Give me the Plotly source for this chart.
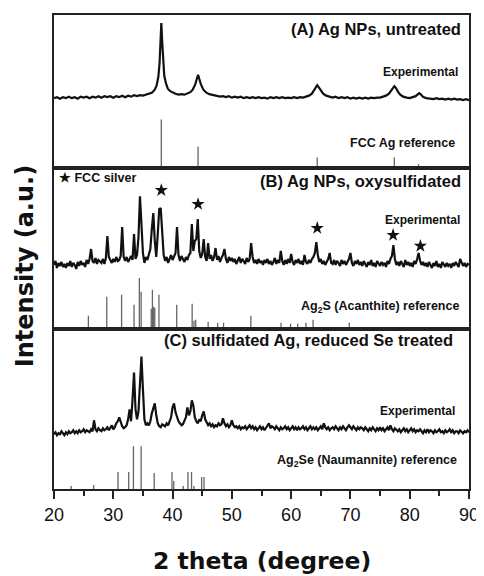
import numpy as np
import plotly.graph_objects as go
from plotly.subplots import make_subplots

# ---------------- DATA ----------------
# (A) Ag NPs, untreated - experimental pattern (2theta, intensity a.u.)
a_two_theta = [20.0, 20.5, 21.0, 21.5, 22.0, 22.5, 23.0, 23.5, 24.0, 24.5, 25.0, 25.5, 26.0, 26.5,
               27.0, 27.5, 28.0, 28.5, 29.0, 29.5, 30.0, 30.5, 31.0, 31.5, 32.0, 32.5, 33.0, 33.5,
               34.0, 34.5, 35.0, 35.5, 36.0, 36.5, 37.0, 37.3, 37.6, 37.8, 37.95, 38.1, 38.25, 38.4,
               38.6, 38.9, 39.2, 39.6, 40.0, 40.5, 41.0, 41.5, 42.0, 42.5, 43.0, 43.4, 43.8, 44.1,
               44.3, 44.5, 44.8, 45.2, 45.7, 46.2, 46.8, 47.5, 48.0, 48.5, 49.0, 49.5, 50.0, 50.5,
               51.0, 51.5, 52.0, 52.5, 53.0, 53.5, 54.0, 54.5, 55.0, 55.5, 56.0, 56.5, 57.0, 57.5,
               58.0, 58.5, 59.0, 59.5, 60.0, 60.5, 61.0, 61.5, 62.0, 62.5, 63.0, 63.5, 63.9, 64.2,
               64.4, 64.7, 65.0, 65.4, 65.9, 66.5, 67.0, 67.5, 68.0, 68.5, 69.0, 69.5, 70.0, 70.5,
               71.0, 71.5, 72.0, 72.5, 73.0, 73.5, 74.0, 74.5, 75.0, 75.5, 76.0, 76.5, 76.9, 77.2,
               77.4, 77.7, 78.0, 78.4, 78.9, 79.5, 80.0, 80.5, 81.0, 81.3, 81.6, 81.9, 82.3, 82.8,
               83.5, 84.0, 84.5, 85.0, 85.5, 86.0, 86.5, 87.0, 87.5, 88.0, 88.5, 89.0, 89.5, 90.0]
a_intensity = [70.5, 71.5, 70.0, 71.5, 70.5, 72.0, 70.5, 71.5, 70.0, 72.0, 71.0, 72.0, 70.5, 72.0,
               71.0, 72.5, 71.0, 72.5, 71.5, 72.5, 71.0, 72.5, 71.5, 73.0, 71.5, 73.0, 72.0, 73.5,
               72.5, 73.5, 73.0, 74.0, 74.5, 76.0, 79.0, 83.0, 92.0, 105.0, 125.0, 146.0, 127.0, 106.0,
               93.0, 85.0, 80.0, 77.5, 76.0, 75.0, 74.0, 74.5, 74.0, 75.0, 76.5, 79.0, 84.0, 90.0,
               94.0, 90.0, 84.0, 79.0, 76.0, 74.5, 73.5, 73.0, 72.0, 72.5, 71.5, 72.5, 71.0, 72.0,
               71.0, 72.0, 70.5, 71.5, 70.5, 71.5, 70.5, 71.5, 70.5, 71.0, 70.0, 71.5, 70.5, 71.5,
               70.5, 71.5, 70.5, 71.0, 70.5, 71.5, 70.5, 71.5, 71.0, 72.0, 73.0, 75.0, 79.0, 82.0,
               83.5, 81.0, 78.0, 75.0, 73.0, 72.0, 71.0, 72.0, 70.5, 71.5, 70.5, 71.5, 70.0, 71.0,
               70.0, 71.0, 70.0, 71.0, 70.0, 71.0, 70.5, 71.0, 71.0, 72.0, 73.0, 75.0, 78.5, 81.5,
               82.5, 80.5, 77.0, 74.0, 72.0, 71.0, 70.5, 71.5, 72.5, 74.0, 75.5, 74.0, 71.5, 70.5,
               70.0, 69.5, 70.5, 69.5, 70.0, 69.0, 70.0, 69.0, 70.0, 69.0, 69.5, 68.5, 69.5, 68.5]

# FCC Ag reference sticks
fcc_ag_pos = [38.1, 44.3, 64.4, 77.4, 81.5]
fcc_ag_int = [49, 22, 11, 11, 4]

# (B) and (C) experimental patterns on a 0.25 degree grid from 20 to 90
grid_start = 20.0
grid_step = 0.25

b_intensity = [
    64, 68, 61, 66,  63, 67, 62, 65,  61, 66, 63, 68,  62, 66, 64, 60,   # 20-23
    67, 63, 68, 64,  66, 62, 69, 65,  70, 80, 68, 66,  71, 65, 69, 67,   # 24-27
    66, 70, 65, 71,  93, 72, 68, 66,  70, 67, 72, 68,  69, 73, 102, 72,  # 28-31
    68, 72, 67, 71,  73, 69, 95, 70,  74, 92, 133, 105, 76, 66, 72, 69,  # 32-35
    74, 80, 100, 116, 88, 72, 95, 120, 121, 98, 74, 68, 72, 66, 70, 74,  # 36-39
    69, 73, 76, 102, 74, 68, 73, 70,  67, 72, 69, 74,  76, 105, 78, 88,  # 40-43
    90, 110, 78, 71, 75, 90, 72, 68,  86, 70, 74, 68,  72, 81, 69, 73,   # 44-47
    67, 71, 74, 80,  70, 66, 72, 68,  71, 67, 70, 65,  69, 72, 66, 70,   # 48-51
    68, 65, 71, 67,  70, 86, 72, 66,  69, 65, 70, 66,  68, 64, 69, 66,   # 52-55
    70, 65, 68, 64,  67, 71, 65, 69,  66, 78, 68, 64,  69, 65, 70, 66,   # 56-59
    75, 67, 64, 69,  66, 70, 65, 68,  64, 74, 67, 65,  69, 66, 70, 72,   # 60-63
    76, 87, 74, 67,  70, 65, 68, 64,  67, 70, 76, 66,  65, 69, 64, 68,   # 64-67
    66, 63, 69, 65,  68, 64, 67, 70,  76, 66, 63, 68,  65, 69, 64, 67,   # 68-71
    63, 68, 65, 62,  67, 64, 69, 63,  66, 62, 68, 65,  63, 67, 64, 66,   # 72-75
    62, 68, 65, 70,  73, 84, 70, 64,  67, 63, 68, 65,  62, 69, 64, 67,   # 76-79
    63, 66, 62, 68,  65, 70, 76, 68,  64, 67, 63, 66,  62, 67, 64, 61,   # 80-83
    66, 63, 68, 62,  65, 61, 67, 64,  62, 66, 63, 65,  61, 66, 63, 67,   # 84-87
    64, 62, 70, 66,  63, 66, 62, 65,  64]                                # 88-90

c_intensity = [
    55, 57, 54, 56,  55, 58, 56, 54,  57, 55, 58, 56,  57, 59, 56, 58,   # 20-23
    56, 59, 57, 58,  60, 57, 59, 58,  57, 60, 58, 69,  60, 58, 61, 59,   # 24-27
    58, 61, 59, 60,  62, 59, 61, 64,  60, 62, 66, 68,  72, 66, 63, 61,   # 28-31
    62, 64, 70, 80,  68, 90, 117, 80, 70, 78, 110, 133, 100, 70, 64, 66, # 32-35
    64, 68, 76, 80,  86, 74, 66, 63,  62, 65, 64, 63,  66, 64, 68, 72,   # 36-39
    82, 86, 77, 72,  68, 66, 64, 65,  68, 72, 82, 74,  78, 89, 84, 72,   # 40-43
    68, 66, 70, 68,  74, 78, 70, 66,  64, 66, 63, 65,  62, 64, 63, 66,   # 44-47
    64, 65, 71, 66,  63, 65, 62, 64,  69, 64, 62, 63,  61, 63, 60, 62,   # 48-51
    61, 63, 60, 62,  64, 61, 63, 60,  62, 59, 61, 63,  60, 62, 59, 61,   # 52-55
    63, 66, 61, 63,  62, 60, 63, 61,  59, 62, 60, 61,  63, 60, 62, 59,   # 56-59
    61, 63, 60, 62,  59, 62, 60, 61,  63, 60, 62, 59,  61, 63, 60, 62,   # 60-63
    60, 62, 59, 61,  63, 60, 66, 62,  60, 62, 59, 61,  62, 60, 63, 61,   # 64-67
    59, 62, 60, 63,  61, 59, 62, 64,  62, 60, 63, 61,  59, 62, 60, 62,   # 68-71
    61, 59, 62, 60,  58, 61, 59, 62,  60, 58, 61, 59,  62, 59, 61, 58,   # 72-75
    60, 62, 59, 64,  60, 58, 61, 59,  58, 60, 57, 59,  61, 58, 60, 57,   # 76-79
    59, 61, 58, 60,  57, 59, 58, 60,  58, 56, 59, 57,  60, 57, 59, 58,   # 80-83
    56, 59, 57, 58,  60, 57, 58, 56,  59, 57, 58, 60,  57, 59, 56, 58,   # 84-87
    58, 56, 59, 57,  56, 58, 57, 59,  57]                                # 88-90

# Ag2S (Acanthite) reference sticks
acanthite_pos = [25.8, 28.9, 31.4, 33.5, 34.4, 34.7, 36.4, 36.6, 36.8, 37.0, 37.7,
                 40.7, 43.3, 43.6, 43.9, 46.0, 47.6, 48.6, 53.2, 58.3, 59.9, 61.1,
                 62.5, 63.7, 69.8]
acanthite_int = [13, 32, 34, 24, 51, 37, 20, 39, 22, 21, 34,
                 24, 25, 8, 9, 7, 6, 6, 13, 6, 5, 5,
                 6, 9, 6]

# Ag2Se (Naumannite) reference sticks
naumannite_pos = [22.9, 26.7, 30.8, 32.6, 33.4, 34.7, 36.9, 39.9, 40.2, 41.8,
                  42.6, 43.2, 43.6, 44.9, 45.3]
naumannite_int = [3, 4, 17, 17, 43, 43, 16, 17, 8, 3,
                  17, 17, 3, 12, 12]

# FCC silver markers in panel (B)
star_pos = [38.1, 44.3, 64.4, 77.2, 81.8]
star_int = [139, 125, 101, 94, 83]

x_ticks = [20, 30, 40, 50, 60, 70, 80, 90]

# ---------------- FIGURE ----------------
grid = list(np.round(grid_start + grid_step * np.arange(len(b_intensity)), 2))


def sticks(pos, hts):
    xs, ys = [], []
    for p, h in zip(pos, hts):
        xs += [p, p, None]
        ys += [0, h, None]
    return xs, ys


fig = make_subplots(rows=3, cols=1, shared_xaxes=True, vertical_spacing=0,
                    row_heights=[154, 161, 161])

exp_line = dict(color="#111111", width=2.2)
stick_line = dict(color="#666666", width=1.3)

fig.add_trace(go.Scatter(x=a_two_theta, y=a_intensity, mode="lines", line=exp_line), row=1, col=1)
sx, sy = sticks(fcc_ag_pos, fcc_ag_int)
fig.add_trace(go.Scatter(x=sx, y=sy, mode="lines", line=stick_line), row=1, col=1)

fig.add_trace(go.Scatter(x=grid, y=b_intensity, mode="lines", line=exp_line), row=2, col=1)
sx, sy = sticks(acanthite_pos, acanthite_int)
fig.add_trace(go.Scatter(x=sx, y=sy, mode="lines", line=stick_line), row=2, col=1)
fig.add_trace(go.Scatter(x=star_pos, y=star_int, mode="markers",
                         marker=dict(symbol="star", size=10, color="#111111")), row=2, col=1)

fig.add_trace(go.Scatter(x=grid, y=c_intensity, mode="lines", line=exp_line), row=3, col=1)
sx, sy = sticks(naumannite_pos, naumannite_int)
fig.add_trace(go.Scatter(x=sx, y=sy, mode="lines", line=stick_line), row=3, col=1)

# The page adds an 8 px body margin, so the figure is 8 px smaller and margins shifted.
fig.update_layout(
    width=476, height=568,
    margin=dict(l=46, r=12, t=5, b=87),
    paper_bgcolor="white", plot_bgcolor="white",
    showlegend=False,
    font=dict(family="Liberation Sans, Arial, sans-serif", color="#111111", size=12),
)

fig.update_xaxes(range=[20, 90], showgrid=False, zeroline=False, showline=True, mirror=True,
                 linecolor="#222222", linewidth=2)
fig.update_xaxes(ticks="", showticklabels=False, row=1, col=1)
fig.update_xaxes(ticks="", showticklabels=False, row=2, col=1)
fig.update_xaxes(ticks="outside", ticklen=8, tickwidth=2, tickcolor="#222222",
                 tickvals=x_ticks, showticklabels=True,
                 tickfont=dict(size=18, family="Liberation Sans, Arial, sans-serif", color="#111111"),
                 minor=dict(dtick=5, tick0=20, ticks="outside", ticklen=5, tickwidth=2, tickcolor="#222222"),
                 row=3, col=1)

fig.update_yaxes(showgrid=False, zeroline=False, showline=True, mirror=True,
                 linecolor="#222222", linewidth=2, ticks="", showticklabels=False)
fig.update_yaxes(range=[0, 154], row=1, col=1)
fig.update_yaxes(range=[0, 161], row=2, col=1)
fig.update_yaxes(range=[0, 161], row=3, col=1)

bold = dict(family="Liberation Sans, Arial, sans-serif", weight="bold", color="#111111")


def note(text, x, y, row, size, anchor="right"):
    ax = "x" if row == 1 else f"x{row}"
    ay = "y" if row == 1 else f"y{row}"
    fig.add_annotation(text=text, x=x, y=y, xref=ax, yref=ay, showarrow=False,
                       xanchor=anchor, yanchor="middle", font=dict(bold, size=size))


note("(A) Ag NPs, untreated", 89.0, 140, 1, 16.5)
note("Experimental", 88.5, 97, 1, 12)
note("FCC Ag reference", 88.0, 25, 1, 12.5)

note("(B) Ag NPs, oxysulfidated", 89.0, 148, 2, 16.5)
note("★ FCC silver", 20.5, 151, 2, 12.5, anchor="left")
note("Experimental", 88.8, 109, 2, 12)
note("Ag<sub>2</sub>S (Acanthite) reference", 88.7, 22, 2, 12.5)

note("(C) sulfidated Ag, reduced Se treated", 87.7, 150, 3, 16.5)
note("Experimental", 88.0, 78, 3, 12)
note("Ag<sub>2</sub>Se (Naumannite) reference", 88.3, 28, 3, 12.5)

axis_title_font = dict(family="DejaVu Sans, Verdana, sans-serif", weight="bold", color="#111111")
fig.add_annotation(text="2 theta (degree)", xref="paper", yref="paper", x=0.5, y=-72 / 476,
                   xanchor="center", yanchor="middle", showarrow=False,
                   font=dict(axis_title_font, size=23.5))
fig.add_annotation(text="Intensity (a.u.)", xref="paper", yref="paper", x=-29 / 418,
                   y=1 - (265 - 13) / 476, xanchor="center", yanchor="middle",
                   textangle=-90, showarrow=False, font=dict(axis_title_font, size=24))

fig.write_html("out.html")
